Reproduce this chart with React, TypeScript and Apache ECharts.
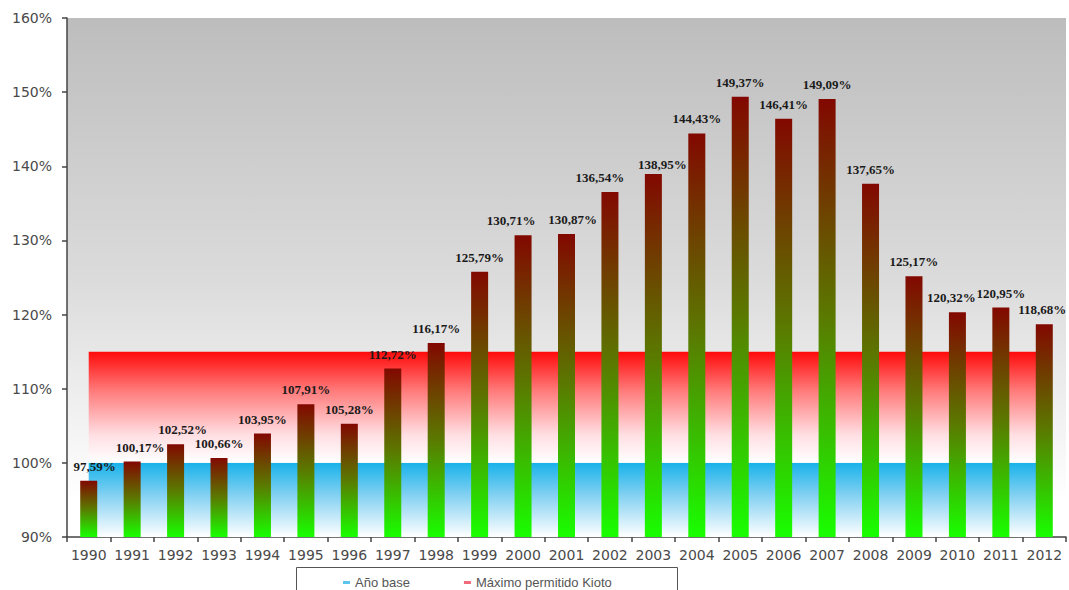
import React, { useEffect, useRef } from "react";
import * as echarts from "echarts";

// Emisiones respecto al año base (1990 = 100 %)
const years = [
  "1990", "1991", "1992", "1993", "1994", "1995", "1996", "1997", "1998", "1999", "2000", "2001",
  "2002", "2003", "2004", "2005", "2006", "2007", "2008", "2009", "2010", "2011", "2012",
];
const emissions = [
  97.59, 100.17, 102.52, 100.66, 103.95, 107.91, 105.28, 112.72, 116.17, 125.79, 130.71, 130.87,
  136.54, 138.95, 144.43, 149.37, 146.41, 149.09, 137.65, 125.17, 120.32, 120.95, 118.68,
];
const baseYearLevel = 100;
const kyotoLimit = 115;
const yTicks = { min: 90, max: 160, interval: 10 };

const fmt = (v: number) => v.toFixed(2).replace(".", ",") + "%";

// hand-placed value labels: [dx, dy] in px, so neighbours don't collide
const labelNudge: Record<string, [number, number]> = {
  "1990": [6, 0],
  "1991": [8, 0],
  "1992": [7, 0],
  "2000": [-12, 0],
  "2001": [6, 0],
  "2002": [-10, 0],
  "2003": [9, 5],
  "2010": [-6, 0],
  "2012": [-2, 0],
};

export default function App() {
  const ref = useRef<HTMLDivElement>(null);

  useEffect(() => {
    if (!ref.current) return;
    const chart = echarts.init(ref.current, null, { renderer: "svg" });
    const G = echarts.graphic.LinearGradient;

    const barData = emissions.map((v, i) => {
      const nudge = labelNudge[years[i]];
      return nudge ? { value: v, label: { offset: nudge } } : v;
    });

    chart.setOption({
      animation: false,
      grid: {
        left: 67,
        right: 3,
        top: 18,
        bottom: 53,
        show: true,
        borderWidth: 0,
        backgroundColor: new G(0, 0, 0, 1, [
          { offset: 0, color: "#bdbdbd" },
          { offset: 0.5, color: "#dbdbdb" },
          { offset: 0.93, color: "#ffffff" },
          { offset: 1, color: "#ffffff" },
        ]),
      },
      legend: {
        left: 338,
        top: 571,
        itemGap: 54,
        itemWidth: 7,
        itemHeight: 3,
        icon: "rect",
        textStyle: { color: "#555", fontSize: 13, fontFamily: "Liberation Sans" },
        data: ["Año base", "Máximo permitido Kioto"],
      },
      graphic: [
        {
          type: "rect",
          shape: { x: 296.5, y: 567.5, width: 381, height: 30 },
          style: { fill: "transparent", stroke: "#555", lineWidth: 1 },
        },
      ],
      xAxis: {
        type: "category",
        data: years,
        boundaryGap: true,
        axisLine: { lineStyle: { color: "#444", width: 1.5 } },
        axisTick: { show: true, length: 5, lineStyle: { color: "#444", width: 1.5 } },
        axisLabel: {
          interval: 0,
          color: "#4a4a4a",
          fontSize: 14,
          fontFamily: "DejaVu Sans",
          margin: 11,
        },
      },
      yAxis: {
        type: "value",
        min: yTicks.min,
        max: yTicks.max,
        interval: yTicks.interval,
        axisLine: { show: true, lineStyle: { color: "#444", width: 1.5 } },
        axisTick: { show: true, length: 5, lineStyle: { color: "#444", width: 1.5 } },
        splitLine: { show: false },
        axisLabel: {
          color: "#4a4a4a",
          fontSize: 14,
          fontFamily: "DejaVu Sans",
          margin: 15,
          formatter: "{value}%",
        },
      },
      series: [
        {
          name: "Año base",
          type: "line",
          data: years.map(() => baseYearLevel),
          symbol: "none",
          lineStyle: { width: 0 },
          itemStyle: { color: "#5cc6ee" },
          areaStyle: {
            origin: "start",
            opacity: 1,
            color: new G(0, 0, 0, 1, [
              { offset: 0, color: "#18b2ea" },
              { offset: 0.45, color: "#86d2f2" },
              { offset: 1, color: "#ffffff" },
            ]),
          },
          z: 1,
          silent: true,
        },
        {
          name: "kyoto-base",
          type: "line",
          stack: "kyoto",
          data: years.map(() => baseYearLevel),
          symbol: "none",
          lineStyle: { width: 0 },
          z: 1,
          silent: true,
        },
        {
          name: "Máximo permitido Kioto",
          type: "line",
          stack: "kyoto",
          data: years.map(() => kyotoLimit - baseYearLevel),
          symbol: "none",
          lineStyle: { width: 0 },
          itemStyle: { color: "#f06a7a" },
          areaStyle: {
            opacity: 1,
            color: new G(0, 0, 0, 1, [
              { offset: 0, color: "#ff0a0a" },
              { offset: 0.35, color: "#ff7a7a" },
              { offset: 0.75, color: "#ffdfe3" },
              { offset: 1, color: "#ffffff" },
            ]),
          },
          z: 1,
          silent: true,
        },
        {
          name: "Emisiones",
          type: "bar",
          data: barData,
          barWidth: 17,
          z: 3,
          itemStyle: {
            color: new G(0, 0, 0, 1, [
              { offset: 0, color: "#820800" },
              { offset: 0.5, color: "#5a7a00" },
              { offset: 1, color: "#18ff00" },
            ]),
          },
          label: {
            show: true,
            position: "top",
            distance: 8,
            color: "#1a1a1a",
            fontSize: 13,
            fontWeight: "bold",
            fontFamily: "Liberation Serif",
            formatter: (p: any) => fmt(p.value),
          },
        },
      ],
    });

    return () => chart.dispose();
  }, []);

  return (
    <div
      ref={ref}
      style={{ position: "fixed", left: 0, top: 0, width: 1069, height: 590, background: "#fff" }}
    />
  );
}
